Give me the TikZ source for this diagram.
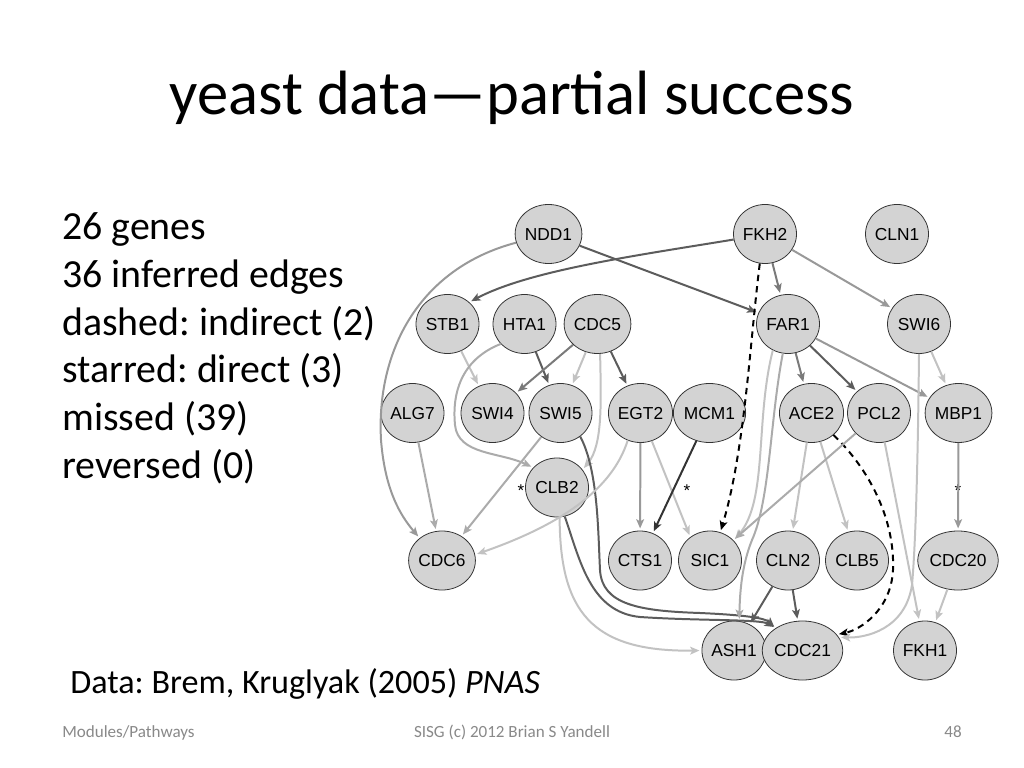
\documentclass[tikz,border=0pt]{standalone}
\usepackage{fontspec}
\setmainfont{Carlito}
\newfontfamily\arialf{Liberation Sans}
\usetikzlibrary{shapes.geometric,arrows.meta}
\definecolor{nodegray}{HTML}{D3D3D3}
\definecolor{ga}{HTML}{C2C2C2}
\definecolor{gb}{HTML}{ABABAB}
\definecolor{gc}{HTML}{999999}
\definecolor{gd}{HTML}{7A7A7A}
\definecolor{ge}{HTML}{5C5C5C}
\definecolor{gf}{HTML}{333333}
\definecolor{footgray}{HTML}{898989}
\frenchspacing
\begin{document}
\begin{tikzpicture}[x=0.703125pt,y=-0.703125pt,
  gene/.style={ellipse, draw=black!80, line width=0.55pt, fill=nodegray,
    minimum width=44.3pt, minimum height=41.5pt, inner sep=0pt,
    text height=8.7pt, text depth=0pt,
    font=\arialf\fontsize{12.2}{14}\selectfont},
  edge/.style={line width=1.4pt, -{Stealth[length=6.5pt,width=5.5pt,inset=1.5pt]}, shorten >=1.5pt},
  dashedge/.style={edge, black, dash pattern=on 4.5pt off 3.5pt},
  startxt/.style={font=\arialf\fontsize{12}{14}\selectfont, inner sep=0pt, anchor=base},
  bodytxt/.style={font=\fontsize{28}{33}\selectfont, inner sep=0pt, anchor=base west},
  foottxt/.style={font=\fontsize{12}{14}\selectfont, text=footgray, inner sep=0pt, anchor=base}
]
\useasboundingbox (0,0) rectangle (1024,768);
\fill[white] (0,0) rectangle (1024,768);

% title and text
\node[font=\fontsize{44}{50}\selectfont, inner sep=0pt, anchor=base] (title) at (512,115) {yeast data\textemdash partial success};
\node[bodytxt] (t1) at (62,240) {26 genes};
\node[bodytxt] (t2) at (62,287.6) {36 inferred edges};
\node[bodytxt] (t3) at (62,335.2) {dashed: indirect (2)};
\node[bodytxt] (t4) at (62,382.8) {starred: direct (3)};
\node[bodytxt] (t5) at (62,430.4) {missed (39)};
\node[bodytxt] (t6) at (62,478) {reversed (0)};
\node[font=\fontsize{24}{28}\selectfont, inner sep=0pt, anchor=base west] (data) at (70,693) {Data: Brem, Kruglyak (2005) \textit{PNAS}};
\node[foottxt, anchor=base west] (f1) at (62,737) {Modules/Pathways};
\node[foottxt] (f2) at (512,737) {SISG (c) 2012 Brian S Yandell};
\node[foottxt, anchor=base east] (f3) at (962,737) {48};

% nodes
\node[gene] (NDD1) at (548.5,234) {NDD1};
\node[gene] (FKH2) at (765,234) {FKH2};
\node[gene] (CLN1) at (897,234) {CLN1};
\node[gene] (STB1) at (447.5,324) {STB1};
\node[gene] (HTA1) at (524.5,324) {HTA1};
\node[gene] (CDC5) at (597.5,324) {CDC5};
\node[gene] (FAR1) at (788,324) {FAR1};
\node[gene] (SWI6) at (919,324) {SWI6};
\node[gene] (ALG7) at (412.5,413) {ALG7};
\node[gene] (SWI4) at (492.5,413) {SWI4};
\node[gene] (SWI5) at (560.5,413) {SWI5};
\node[gene] (EGT2) at (640.5,413) {EGT2};
\node[gene] (MCM1) at (709.5,413) {MCM1};
\node[gene] (ACE2) at (811.5,413) {ACE2};
\node[gene] (PCL2) at (879,413) {PCL2};
\node[gene] (MBP1) at (958.5,413) {MBP1};
\node[gene] (CLB2) at (557,487.5) {CLB2};
\node[gene] (CDC6) at (442,560.5) {CDC6};
\node[gene] (CTS1) at (640,560.5) {CTS1};
\node[gene] (SIC1) at (710,560.5) {SIC1};
\node[gene] (CLN2) at (788,560.5) {CLN2};
\node[gene] (CLB5) at (857,560.5) {CLB5};
\node[gene] (CDC20) at (958,560.5) {CDC20};
\node[gene] (ASH1) at (734,650.5) {ASH1};
\node[gene] (CDC21) at (802.5,650.5) {CDC21};
\node[gene] (FKH1) at (925,650.5) {FKH1};

% stars
\node[startxt] (s1) at (521,496) {*};
\node[startxt] (s2) at (687,496) {*};
\node[startxt] (s3) at (958,496) {*};

% edges
\draw[edge, gc] (NDD1.195) .. controls (420,268) and (376,350) .. (381,440)
   .. controls (385,490) and (400,515) .. (CDC6.135);
\draw[edge, ge] (NDD1) -- (FAR1);
\draw[edge, ge] (FKH2.190) .. controls (640,255) and (530,270) .. (STB1.45);
\draw[edge, gd] (FKH2) -- (FAR1);
\draw[edge, gc] (FKH2) -- (SWI6);
\draw[dashedge] (FKH2.260) .. controls (750,340) and (745,450) .. (SIC1.70);
\draw[edge, ga] (STB1) -- (SWI4);
\draw[edge, ge] (HTA1) -- (SWI5);
\draw[edge, gb] (HTA1.220) .. controls (460,360) and (452,395) .. (455,425)
   .. controls (458,455) and (500,452) .. (CLB2.140);
\draw[edge, gd] (CDC5) -- (SWI4);
\draw[edge, ga] (CDC5) -- (SWI5);
\draw[edge, ge] (CDC5) -- (EGT2);
\draw[edge, ga] (CDC5.275) .. controls (601,400) and (603,445) .. (CLB2.35);
\draw[edge, gb] (SWI5) -- (CDC6);
\draw[edge, ge] (SWI5.-50) .. controls (598,470) and (598,530) .. (600,570)
   .. controls (602,605) and (640,611) .. (700,613)
   .. controls (745,615) and (765,618) .. (CDC21.140);
\draw[edge, gb] (ALG7) -- (CDC6);
\draw[edge, ga] (EGT2.245) .. controls (612,490) and (560,525) .. (CDC6.10);
\draw[edge, gc] (EGT2) -- (CTS1);
\draw[edge, ga] (EGT2.-68) -- (SIC1.130);
\draw[edge, gf] (MCM1) -- (CTS1);
\draw[edge, ge] (CLB2.-75) .. controls (580,560) and (590,612) .. (640,617)
   .. controls (700,621) and (760,619) .. (CDC21.140);
\draw[edge, ga] (CLB2.-85) .. controls (560,610) and (590,652) .. (ASH1.180);
\draw[edge, gd] (FAR1) -- (ACE2);
\draw[edge, ge] (FAR1) -- (PCL2);
\draw[edge, gc] (FAR1) -- (MBP1);
\draw[edge, ga] (FAR1.240) .. controls (755,420) and (768,500) .. (SIC1.40);
\draw[edge, gb] (FAR1.260) .. controls (770,420) and (770,500) .. (752,540)
   .. controls (742,565) and (740,590) .. (ASH1.80);
\draw[edge, ga] (ACE2) -- (CLN2);
\draw[edge, ga] (ACE2) -- (CLB5);
\draw[dashedge] (ACE2.-45) .. controls (870,470) and (895,520) .. (893,570)
   .. controls (891,610) and (860,630) .. (CDC21.25);
\draw[edge, gb] (PCL2) -- (SIC1);
\draw[edge, ga] (PCL2) -- (FKH1);
\draw[edge, ga] (SWI6) -- (MBP1);
\draw[edge, ga] (SWI6.270) .. controls (918,450) and (916,540) .. (912,585)
   .. controls (905,630) and (865,638) .. (CDC21.20);
\draw[edge, gc] (MBP1) -- (CDC20);
\draw[edge, ga] (CDC20) -- (FKH1);
\draw[edge, ge] (CLN2) -- (ASH1);
\draw[edge, ge] (CLN2) -- (CDC21);
\end{tikzpicture}
\end{document}
